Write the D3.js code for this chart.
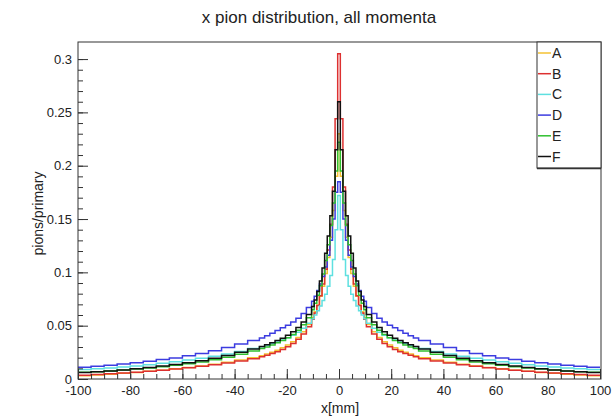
<!DOCTYPE html>
<html>
<head>
<meta charset="utf-8">
<script src="https://cdn.jsdelivr.net/npm/d3@7/dist/d3.min.js"></script>
<style>
  html, body { margin: 0; padding: 0; background: #fff; }
  svg { display: block; font-family: "Liberation Sans", Arial, Helvetica, sans-serif; }
</style>
</head>
<body>
<svg id="chart" width="613" height="419"></svg>
<script>
// Bin edges in mm (finer binning around the beam axis)
const binEdges = [-100,-95,-90,-85,-80,-75,-70,-65,-60,-55,-50,-45,-40,-35,-30.5,
  -28.5,-26.5,-24.5,-22.5,-20.5,-18.5,-16.5,-14.5,-12.5,-10.5,
  -9.5,-8.5,-7.5,-6.5,-5.5,-4.5,-3.5,-2.5,-1.5,-0.5,0.5,1.5,2.5,3.5,4.5,5.5,6.5,7.5,8.5,9.5,10.5,
  12.5,14.5,16.5,18.5,20.5,22.5,24.5,26.5,28.5,30.5,
  35,40,45,50,55,60,65,70,75,80,85,90,95,100];

const seriesNames = ["A", "B", "C", "D", "E", "F"];
const seriesColors = ["#f4c233", "#dd3030", "#5ee0e0", "#3c3ce0", "#30c030", "#111111"];

// pions per primary, one value per bin
const valuesA = [.0030,.0037,.0045,.0053,.0062,.0072,.0083,.0095,.0108,.0122,.0138,.0156,.0177,.0200,
  .0219,.0234,.0251,.0270,.0292,.0318,.0350,.0390,.0442,.0510,
  .0575,.0630,.0695,.0775,.0870,.0990,.1140,.1330,.1580,.1900,
  .2300,
  .1900,.1580,.1330,.1140,.0990,.0870,.0775,.0695,.0630,.0575,
  .0510,.0442,.0390,.0350,.0318,.0292,.0270,.0251,.0234,.0219,
  .0200,.0177,.0156,.0138,.0122,.0108,.0095,.0083,.0072,.0062,.0053,.0045,.0037,.0030];
const valuesB = [.0036,.0042,.0049,.0056,.0064,.0073,.0083,.0094,.0106,.0119,.0133,.0149,.0168,.0190,
  .0208,.0222,.0238,.0256,.0277,.0302,.0333,.0372,.0422,.0490,
  .0560,.0620,.0690,.0780,.0890,.1030,.1210,.1450,.1800,.2440,
  .3050,
  .2440,.1800,.1450,.1210,.1030,.0890,.0780,.0690,.0620,.0560,
  .0490,.0422,.0372,.0333,.0302,.0277,.0256,.0238,.0222,.0208,
  .0190,.0168,.0149,.0133,.0119,.0106,.0094,.0083,.0073,.0064,.0056,.0049,.0042,.0036];
const valuesC = [.0089,.0096,.0104,.0113,.0123,.0134,.0147,.0161,.0177,.0195,.0214,.0235,.0259,.0285,
  .0303,.0317,.0332,.0348,.0366,.0386,.0410,.0438,.0475,.0522,
  .0565,.0600,.0640,.0685,.0735,.0795,.0870,.0970,.1120,.1400,
  .1720,
  .1400,.1120,.0970,.0870,.0795,.0735,.0685,.0640,.0600,.0565,
  .0522,.0475,.0438,.0410,.0386,.0366,.0348,.0332,.0317,.0303,
  .0285,.0259,.0235,.0214,.0195,.0177,.0161,.0147,.0134,.0123,.0113,.0104,.0096,.0089];
const valuesD = [.0110,.0119,.0129,.0140,.0153,.0167,.0182,.0198,.0217,.0240,.0265,.0295,.0328,.0360,
  .0385,.0405,.0430,.0455,.0480,.0505,.0535,.0570,.0615,.0670,
  .0730,.0775,.0830,.0890,.0960,.1050,.1160,.1300,.1500,.1750,
  .1850,
  .1750,.1500,.1300,.1160,.1050,.0960,.0890,.0830,.0775,.0730,
  .0670,.0615,.0570,.0535,.0505,.0480,.0455,.0430,.0405,.0385,
  .0360,.0328,.0295,.0265,.0240,.0217,.0198,.0182,.0167,.0153,.0140,.0129,.0119,.0110];
const valuesE = [.0063,.0069,.0076,.0084,.0093,.0103,.0115,.0128,.0143,.0160,.0180,.0204,.0232,.0263,
  .0285,.0301,.0319,.0339,.0361,.0387,.0418,.0457,.0508,.0575,
  .0650,.0710,.0785,.0875,.0985,.1110,.1260,.1440,.1650,.1950,
  .2220,
  .1950,.1650,.1440,.1260,.1110,.0985,.0875,.0785,.0710,.0650,
  .0575,.0508,.0457,.0418,.0387,.0361,.0339,.0319,.0301,.0285,
  .0263,.0232,.0204,.0180,.0160,.0143,.0128,.0115,.0103,.0093,.0084,.0076,.0069,.0063];
const valuesF = [.0060,.0067,.0075,.0085,.0096,.0108,.0121,.0136,.0153,.0172,.0194,.0220,.0250,.0282,
  .0305,.0322,.0340,.0360,.0383,.0410,.0442,.0482,.0535,.0605,
  .0680,.0740,.0820,.0920,.1040,.1180,.1340,.1530,.1760,.2150,
  .2600,
  .2150,.1760,.1530,.1340,.1180,.1040,.0920,.0820,.0740,.0680,
  .0605,.0535,.0482,.0442,.0410,.0383,.0360,.0340,.0322,.0305,
  .0282,.0250,.0220,.0194,.0172,.0153,.0136,.0121,.0108,.0096,.0085,.0075,.0067,.0060];

const xTickValues = [-100,-80,-60,-40,-20,0,20,40,60,80,100];
const xTickLabels = ["-100","-80","-60","-40","-20","0","20","40","60","80","100"];
const yTickValues = [0,0.05,0.1,0.15,0.2,0.25,0.3];
const yTickLabels = ["0","0.05","0.1","0.15","0.2","0.25","0.3"];

const titleText = "x pion distribution, all momenta";
const xTitle = "x[mm]";
const yTitle = "pions/primary";

const allValues = [valuesA, valuesB, valuesC, valuesD, valuesE, valuesF];

// ---- layout ----
const frame = { left: 78, right: 600, top: 42, bottom: 379 };
const svg = d3.select("#chart");

const x = d3.scaleLinear().domain([-100, 100]).range([frame.left, frame.right]);
const y = d3.scaleLinear().domain([0, 0.316]).range([frame.bottom, frame.top]);

// histograms as step outlines
const stepLine = d3.line()
  .x(d => x(d[0]))
  .y(d => y(d[1]))
  .curve(d3.curveStepAfter);

const plot = svg.append("g");
allValues.forEach((vals, i) => {
  const pts = vals.map((v, k) => [binEdges[k], v]);
  pts.push([binEdges[binEdges.length - 1], vals[vals.length - 1]]);
  plot.append("path")
    .attr("d", stepLine(pts))
    .attr("fill", "none")
    .attr("stroke", seriesColors[i])
    .attr("stroke-width", 1.5)
    .attr("stroke-linejoin", "miter");
});

// ---- axes (ticks drawn inward) ----
const axisColor = "#333";
const textColor = "#222";

const xMinor = d3.axisBottom(x).tickValues(d3.range(-100, 101, 5)).tickSize(-5).tickFormat("");
const xMajor = d3.axisBottom(x).tickValues(xTickValues).tickSize(-10).tickPadding(7)
  .tickFormat((d, i) => xTickLabels[i]);
const yMinor = d3.axisLeft(y).tickValues(d3.range(0, 31).map(k => k / 100)).tickSize(-5).tickFormat("");
const yMajor = d3.axisLeft(y).tickValues(yTickValues).tickSize(-10).tickPadding(6)
  .tickFormat((d, i) => yTickLabels[i]);

function styleAxis(g) {
  g.select(".domain").remove();
  g.selectAll("line").attr("stroke", axisColor).attr("stroke-width", 1);
  g.selectAll("text").attr("fill", textColor).attr("font-size", 13)
    .attr("font-family", "\"Liberation Sans\", Arial, sans-serif");
}

svg.append("g").attr("transform", `translate(0,${frame.bottom})`).call(xMinor).call(styleAxis);
svg.append("g").attr("transform", `translate(0,${frame.bottom})`).call(xMajor).call(styleAxis);
svg.append("g").attr("transform", `translate(${frame.left},0)`).call(yMinor).call(styleAxis);
svg.append("g").attr("transform", `translate(${frame.left},0)`).call(yMajor).call(styleAxis);

// frame box
svg.append("rect")
  .attr("x", frame.left).attr("y", frame.top)
  .attr("width", frame.right - frame.left + 1).attr("height", frame.bottom - frame.top)
  .attr("fill", "none").attr("stroke", axisColor).attr("stroke-width", 1);

// ---- titles ----
svg.append("text")
  .attr("x", 319).attr("y", 23)
  .attr("text-anchor", "middle")
  .attr("font-size", 17)
  .attr("fill", textColor)
  .text(titleText);

svg.append("text")
  .attr("x", x(0) + 1).attr("y", 413)
  .attr("text-anchor", "middle")
  .attr("font-size", 14)
  .attr("fill", textColor)
  .text(xTitle);

svg.append("text")
  .attr("transform", `translate(43,${(frame.top + frame.bottom) / 2 + 3}) rotate(-90)`)
  .attr("text-anchor", "middle")
  .attr("font-size", 14)
  .attr("fill", textColor)
  .text(yTitle);

// ---- legend ----
const legend = { left: 537, top: 42, right: 601, bottom: 168, firstY: 53, step: 20.7 };
svg.append("rect")
  .attr("x", legend.left).attr("y", legend.top)
  .attr("width", legend.right - legend.left).attr("height", legend.bottom - legend.top)
  .attr("fill", "#fff").attr("stroke", axisColor).attr("stroke-width", 1);
svg.append("line")
  .attr("x1", legend.left).attr("x2", legend.right)
  .attr("y1", legend.bottom + 0.5).attr("y2", legend.bottom + 0.5)
  .attr("stroke", axisColor).attr("stroke-width", 1.5);

seriesNames.forEach((name, i) => {
  const ly = legend.firstY + i * legend.step;
  svg.append("line")
    .attr("x1", legend.left + 1).attr("x2", legend.left + 14)
    .attr("y1", ly).attr("y2", ly)
    .attr("stroke", seriesColors[i]).attr("stroke-width", 1.5);
  svg.append("text")
    .attr("x", legend.left + 15).attr("y", ly + 5)
    .attr("font-size", 14)
    .attr("fill", textColor)
    .text(name);
});
</script>
</body>
</html>
